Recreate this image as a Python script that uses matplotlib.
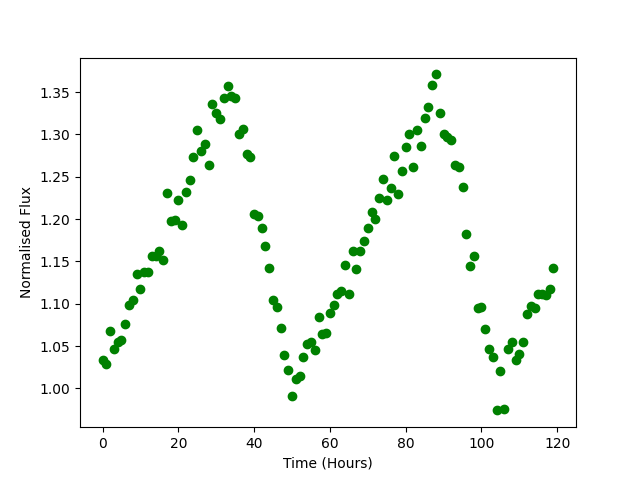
import numpy as np
import matplotlib
matplotlib.use("Agg")
import matplotlib.pyplot as plt

time_hours = np.arange(120)
flux = [
    1.033, 1.029, 1.068, 1.047, 1.055, 1.057, 1.076, 1.099, 1.104, 1.135,
    1.118, 1.137, 1.138, 1.157, 1.157, 1.162, 1.152, 1.231, 1.198, 1.199,
    1.223, 1.193, 1.232, 1.246, 1.273, 1.305, 1.280, 1.289, 1.264, 1.336,
    1.325, 1.318, 1.343, 1.357, 1.346, 1.343, 1.300, 1.306, 1.277, 1.273,
    1.206, 1.204, 1.189, 1.168, 1.142, 1.105, 1.096, 1.071, 1.039, 1.022,
    0.991, 1.011, 1.015, 1.037, 1.053, 1.055, 1.045, 1.084, 1.064, 1.066,
    1.089, 1.099, 1.112, 1.115, 1.146, 1.112, 1.162, 1.141, 1.162, 1.174,
    1.189, 1.208, 1.200, 1.225, 1.248, 1.223, 1.237, 1.274, 1.230, 1.257,
    1.285, 1.301, 1.261, 1.305, 1.286, 1.320, 1.333, 1.358, 1.371, 1.325,
    1.300, 1.297, 1.293, 1.264, 1.261, 1.238, 1.183, 1.145, 1.157, 1.095,
    1.096, 1.070, 1.047, 1.037, 0.974, 1.021, 0.976, 1.047, 1.055, 1.034,
    1.041, 1.055, 1.088, 1.097, 1.095, 1.112, 1.112, 1.110, 1.117, 1.142,
]

fig, ax = plt.subplots(figsize=(6.4, 4.8), dpi=100)
ax.plot(time_hours, flux, 'go')
ax.set_xlabel("Time (Hours)")
ax.set_ylabel("Normalised Flux")
fig.savefig("out.png")
